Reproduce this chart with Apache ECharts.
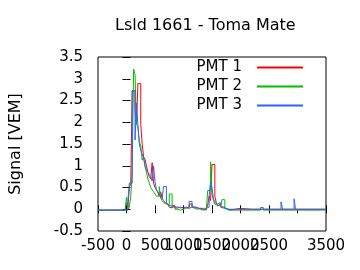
<!DOCTYPE html>
<html><head><meta charset="utf-8">
<script src="https://cdn.jsdelivr.net/npm/echarts@6/dist/echarts.min.js"></script>
<style>html,body{margin:0;padding:0;background:#fff}#c{width:360px;height:270px}</style>
</head><body><div id="c"></div>
<script>
const chartTitle = 'Lsld 1661 - Toma Mate';
const yAxisName = 'Signal [VEM]';
const seriesNames = ['PMT 1', 'PMT 2', 'PMT 3'];
const seriesColors = ['#ff0000', '#00c000', '#3060ff'];

// bin start times [ns]
const times = [-500, -25, 0, 25, 50, 75, 100, 125, 150, 175, 200, 225, 250, 275, 300, 325, 350, 375, 400, 425,
  450, 475, 500, 525, 550, 575, 600, 625, 650, 675, 700, 725, 750, 775, 800, 850, 900, 950, 1000, 1050,
  1100, 1150, 1200, 1250, 1300, 1350, 1400, 1425, 1450, 1475, 1500, 1525, 1550, 1575, 1600, 1625, 1650, 1675, 1700, 1725,
  1750, 1800, 1900, 2000, 2200, 2350, 2400, 2710, 2740, 2940, 2965, 3200, 3500];

const pmt1 = [-0.02, 0.0, 0.15, 0.05, 0.5, 0.6, 2.73, 2.73, 2.3, 1.96,
  2.89, 2.89, 1.95, 1.5, 1.2, 1.15, 1.0, 0.85, 0.75, 0.7,
  1.07, 0.6, 0.5, 0.45, 0.38, 0.3, 0.4, 0.25, 0.2, 0.15,
  0.12, 0.1, 0.05, 0.03, 0.08, 0.03, 0.05, 0.02, 0.05, 0.03,
  0.12, 0.05, 0.03, 0.0, -0.02, 0.0, 0.02, 0.1, 0.3, 0.2,
  1.03, 1.03, 0.3, 0.15, 0.08, 0.12, 0.05, 0.03, 0.0, 0.02,
  -0.02, 0.0, 0.02, 0.0, 0.0, 0.0, 0.0, 0.0, 0.0, 0.0,
  0.0, 0.0, 0.0];

const pmt2 = [-0.02, -0.02, 0.28, 0.0, 0.05, 0.3, 0.9, 3.22, 3.09, 1.95,
  1.9, 1.55, 1.45, 1.13, 1.2, 1.0, 0.85, 0.7, 0.6, 0.5,
  0.45, 0.4, 0.35, 0.3, 0.3, 0.52, 0.25, 0.2, 0.15, 0.12,
  0.1, 0.08, 0.35, 0.35, 0.05, 0.0, -0.02, 0.0, 0.03, 0.02,
  0.05, 0.02, 0.0, 0.02, 0.0, -0.02, 0.0, 0.43, 0.43, 1.09,
  0.35, 0.2, 0.12, 0.08, 0.05, 0.1, 0.05, 0.22, 0.22, 0.02,
  -0.02, -0.02, -0.02, -0.02, -0.02, 0.04, -0.02, -0.02, -0.02, -0.02,
  -0.02, -0.02, -0.02];

const pmt3 = [-0.02, -0.02, -0.02, 0.21, 0.6, 0.6, 2.72, 2.72, 1.59, 2.44,
  1.94, 1.5, 1.36, 1.25, 1.18, 0.98, 0.9, 0.85, 0.8, 0.75,
  0.65, 0.99, 0.63, 0.45, 0.4, 0.35, 0.3, 0.25, 0.52, 0.52,
  0.15, 0.1, 0.08, 0.05, 0.05, 0.05, 0.03, 0.05, 0.03, 0.05,
  0.18, 0.05, 0.03, 0.02, 0.02, 0.02, 0.02, 0.05, 0.3, 0.63,
  0.48, 0.25, 0.15, 0.12, 0.1, 0.15, 0.08, 0.05, 0.03, 0.02,
  0.0, 0.0, 0.0, 0.0, 0.0, 0.0, 0.0, 0.17, 0.0, 0.24,
  0.0, 0.0, 0.0];

const xMin = -500, xMax = 3500, xStep = 500;
const yMin = -0.5, yMax = 3.5, yStep = 0.5;

const FONT = 'DejaVu Sans';
const values = [pmt1, pmt2, pmt3];

const chart = echarts.init(document.getElementById('c'), null, {renderer: 'canvas'});
const tickStyle = {show: true, inside: true, length: 4, lineStyle: {color: '#000', width: 1}};
const axisCommon = {
  splitLine: {show: false},
  axisLine: {show: false},
  axisTick: tickStyle
};
chart.setOption({
  animation: false,
  backgroundColor: '#fff',
  title: {
    text: chartTitle, left: 115, top: 18, padding: 0,
    textStyle: {fontFamily: FONT, fontSize: 16, fontWeight: 'normal', color: '#000'}
  },
  legend: {
    orient: 'vertical', right: 56, top: 60, padding: 0, align: 'right',
    itemWidth: 46, itemHeight: 14, itemGap: 4,
    itemStyle: {opacity: 0},
    textStyle: {fontFamily: FONT, fontSize: 15, color: '#000', lineHeight: 15, padding: [0, 10, 0, 0]},
    data: seriesNames
  },
  grid: {left: 90, right: 34, top: 57, bottom: 39, show: true, borderColor: '#000', borderWidth: 1, containLabel: false},
  xAxis: [
    Object.assign({type: 'value', min: xMin, max: xMax, interval: xStep, position: 'bottom',
      axisLabel: {color: '#000', fontFamily: FONT, fontSize: 15, margin: 8, showMinLabel: true, showMaxLabel: true,
        hideOverlap: false, formatter: v => String(v)}}, axisCommon),
    Object.assign({type: 'value', min: xMin, max: xMax, interval: xStep, position: 'top',
      axisLabel: {show: false}}, axisCommon)
  ],
  yAxis: [
    Object.assign({type: 'value', min: yMin, max: yMax, interval: yStep, position: 'left',
      name: yAxisName, nameLocation: 'middle', nameGap: 74, nameRotate: 90,
      nameTextStyle: {fontFamily: FONT, fontSize: 16, color: '#000'},
      axisLabel: {color: '#000', fontFamily: FONT, fontSize: 15, margin: 15, showMinLabel: true, showMaxLabel: true,
        formatter: v => String(v)}}, axisCommon),
    Object.assign({type: 'value', min: yMin, max: yMax, interval: yStep, position: 'right',
      axisLabel: {show: false}}, axisCommon)
  ],
  series: seriesNames.map((name, i) => ({
    name: name, type: 'line', step: 'end', showSymbol: false, symbol: 'none',
    xAxisIndex: 0, yAxisIndex: 0,
    color: seriesColors[i],
    itemStyle: {color: seriesColors[i]},
    lineStyle: {width: 1, color: seriesColors[i]},
    data: times.map((t, j) => [t, values[i][j]])
  }))
});
</script></body></html>
